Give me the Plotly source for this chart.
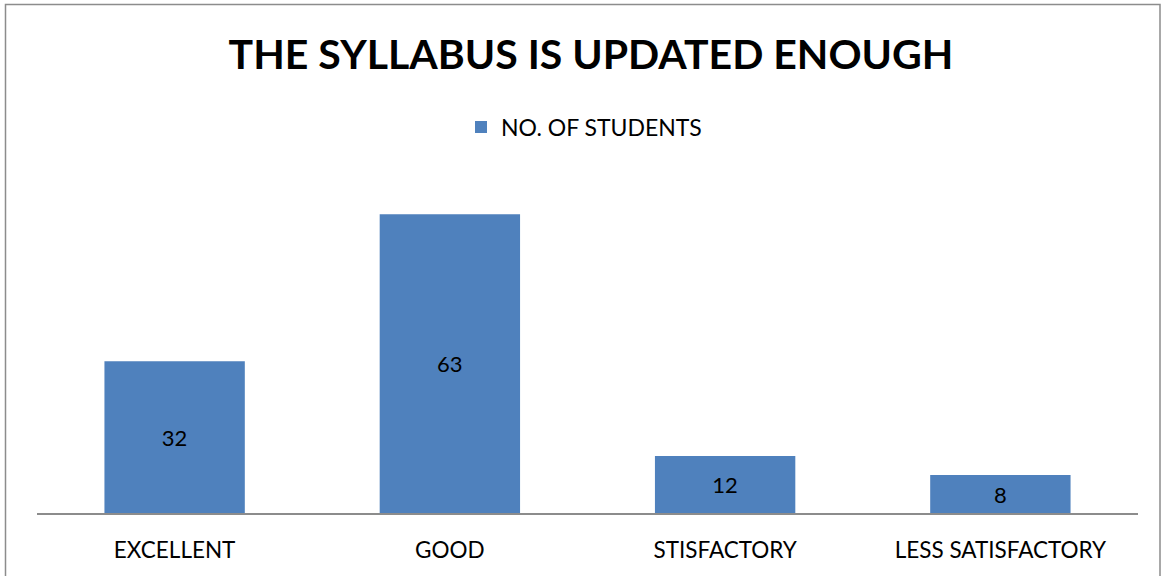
import plotly.graph_objects as go

categories = ["EXCELLENT", "GOOD", "STISFACTORY", "LESS SATISFACTORY"]
students = [32, 63, 12, 8]
series_name = "NO. OF STUDENTS"
title_text = "THE SYLLABUS IS UPDATED ENOUGH"

W, H = 1163, 576
L, R, T, B = 37, 25, 181, 63
pw, ph = W - L - R, H - T - B

fig = go.Figure()
fig.add_trace(go.Bar(
    x=categories, y=students, name=series_name,
    marker=dict(color="#4F81BD", line=dict(width=0)),
    text=[str(v) for v in students], textposition="inside",
    insidetextanchor="middle", textangle=0,
    textfont=dict(family="Lato", size=22, color="black"),
    showlegend=True,
))

def px_x(p):
    return (p - L) / pw

def px_y(p):
    return 1 - (p - T) / ph

fig.add_shape(type="rect", xref="paper", yref="paper",
              x0=px_x(5.5), x1=px_x(1160), y0=px_y(600), y1=px_y(4.5),
              line=dict(color="#8c8c8c", width=1.5), fillcolor="rgba(0,0,0,0)",
              layer="below")

fig.update_layout(
    width=W, height=H,
    margin=dict(l=L, r=R, t=T, b=B),
    paper_bgcolor="white", plot_bgcolor="white",
    bargap=0.49,
    title=dict(text="<b>" + title_text + "</b>", x=591 / W, xanchor="center",
               y=1 - 55 / H, yanchor="middle",
               font=dict(family="Lato", size=41, color="black")),
    legend=dict(orientation="h", x=px_x(584), xanchor="center",
                y=px_y(127), yanchor="middle",
                font=dict(family="Lato", size=23, color="black"),
                itemwidth=30, bgcolor="rgba(0,0,0,0)"),
    font=dict(family="Lato", color="black"),
    xaxis=dict(showline=True, linecolor="#8c8c8c", linewidth=2,
               ticks="", showgrid=False, zeroline=False,
               ticklabelstandoff=16,
               tickfont=dict(family="Lato", size=22.5, color="black")),
    yaxis=dict(range=[0, 70], visible=False, showgrid=False, zeroline=False),
)

fig.write_html("out.html", config={"displayModeBar": False},
               post_script="document.body.style.margin='0';document.body.style.overflow='hidden';")
